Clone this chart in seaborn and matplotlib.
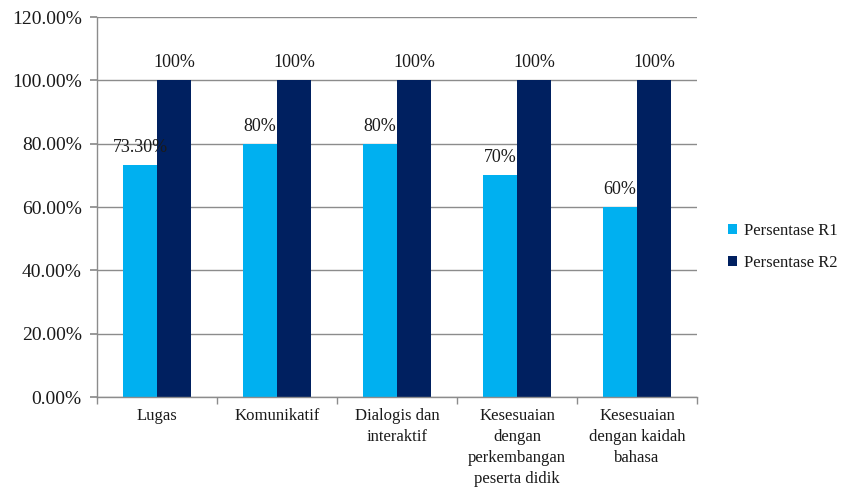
import matplotlib
matplotlib.use("Agg")
import matplotlib.pyplot as plt
import seaborn as sns
import pandas as pd
from matplotlib.ticker import FixedLocator, FuncFormatter

# Categories and series values (percent)
categories = [
    "Lugas",
    "Komunikatif",
    "Dialogis dan\ninteraktif",
    "Kesesuaian\ndengan\nperkembangan\npeserta didik",
    "Kesesuaian\ndengan kaidah\nbahasa",
]
series_names = ["Persentase R1", "Persentase R2"]
r1_values = [73.3, 80, 80, 70, 60]
r2_values = [100, 100, 100, 100, 100]
y_ticks = [0, 20, 40, 60, 80, 100, 120]

colors = ["#00B0F0", "#002060"]


def value_label(v):
    return f"{v:.0f}%" if float(v).is_integer() else f"{v:.2f}%"


df = pd.DataFrame({
    "Kategori": categories * 2,
    "Seri": [series_names[0]] * len(categories) + [series_names[1]] * len(categories),
    "Nilai": r1_values + r2_values,
})

sns.set_theme(style="white")
plt.rcParams["font.family"] = ["Liberation Serif", "DejaVu Serif"]

fig = plt.figure(figsize=(8.41, 4.87), dpi=100)
ax = fig.add_axes([97 / 841, 1 - 397 / 487, 600 / 841, 380 / 487])

sns.barplot(
    data=df, x="Kategori", y="Nilai", hue="Seri",
    palette=colors, width=0.567, gap=0, saturation=1,
    order=categories, hue_order=series_names, ax=ax,
    edgecolor="none", linewidth=0,
)

# Value labels above each bar
for container in ax.containers:
    labels = [value_label(b.get_height()) for b in container]
    ax.bar_label(container, labels=labels, padding=6.5, fontsize=13, color="#1a1a1a")

ax.set_ylim(0, 120)
ax.set_xlim(-0.5, len(categories) - 0.5)
ax.yaxis.set_major_locator(FixedLocator(y_ticks))
ax.yaxis.set_major_formatter(FuncFormatter(lambda v, p: f"{v:.2f}%"))
ax.set_xlabel("")
ax.set_ylabel("")

grid_color = "#8c8c8c"
ax.yaxis.grid(True, color=grid_color, linewidth=1)
ax.set_axisbelow(True)
for side in ["top", "right"]:
    ax.spines[side].set_visible(False)
for side in ["left", "bottom"]:
    ax.spines[side].set_color(grid_color)
    ax.spines[side].set_linewidth(1)

ax.tick_params(axis="y", which="major", left=True, length=5, color=grid_color,
               labelsize=14, labelcolor="#1a1a1a", pad=6)
ax.tick_params(axis="x", which="major", bottom=False, length=0,
               labelsize=12, labelcolor="#1a1a1a", pad=8)
# Category boundary ticks on the x axis
ax.xaxis.set_minor_locator(FixedLocator([i - 0.5 for i in range(len(categories) + 1)]))
ax.tick_params(axis="x", which="minor", bottom=True, length=5, color=grid_color, width=1)
for lbl in ax.get_xticklabels():
    lbl.set_linespacing(1.4)
    lbl.set_verticalalignment("top")

leg = ax.legend(
    loc="center left", bbox_to_anchor=(713 / 841, 1 - 247 / 487),
    bbox_transform=fig.transFigure, frameon=False, fontsize=12,
    handlelength=0.55, handleheight=0.55, handletextpad=0.4, labelspacing=1.0,
)
for t in leg.get_texts():
    t.set_color("#1a1a1a")

fig.savefig("out.png", dpi=100)
